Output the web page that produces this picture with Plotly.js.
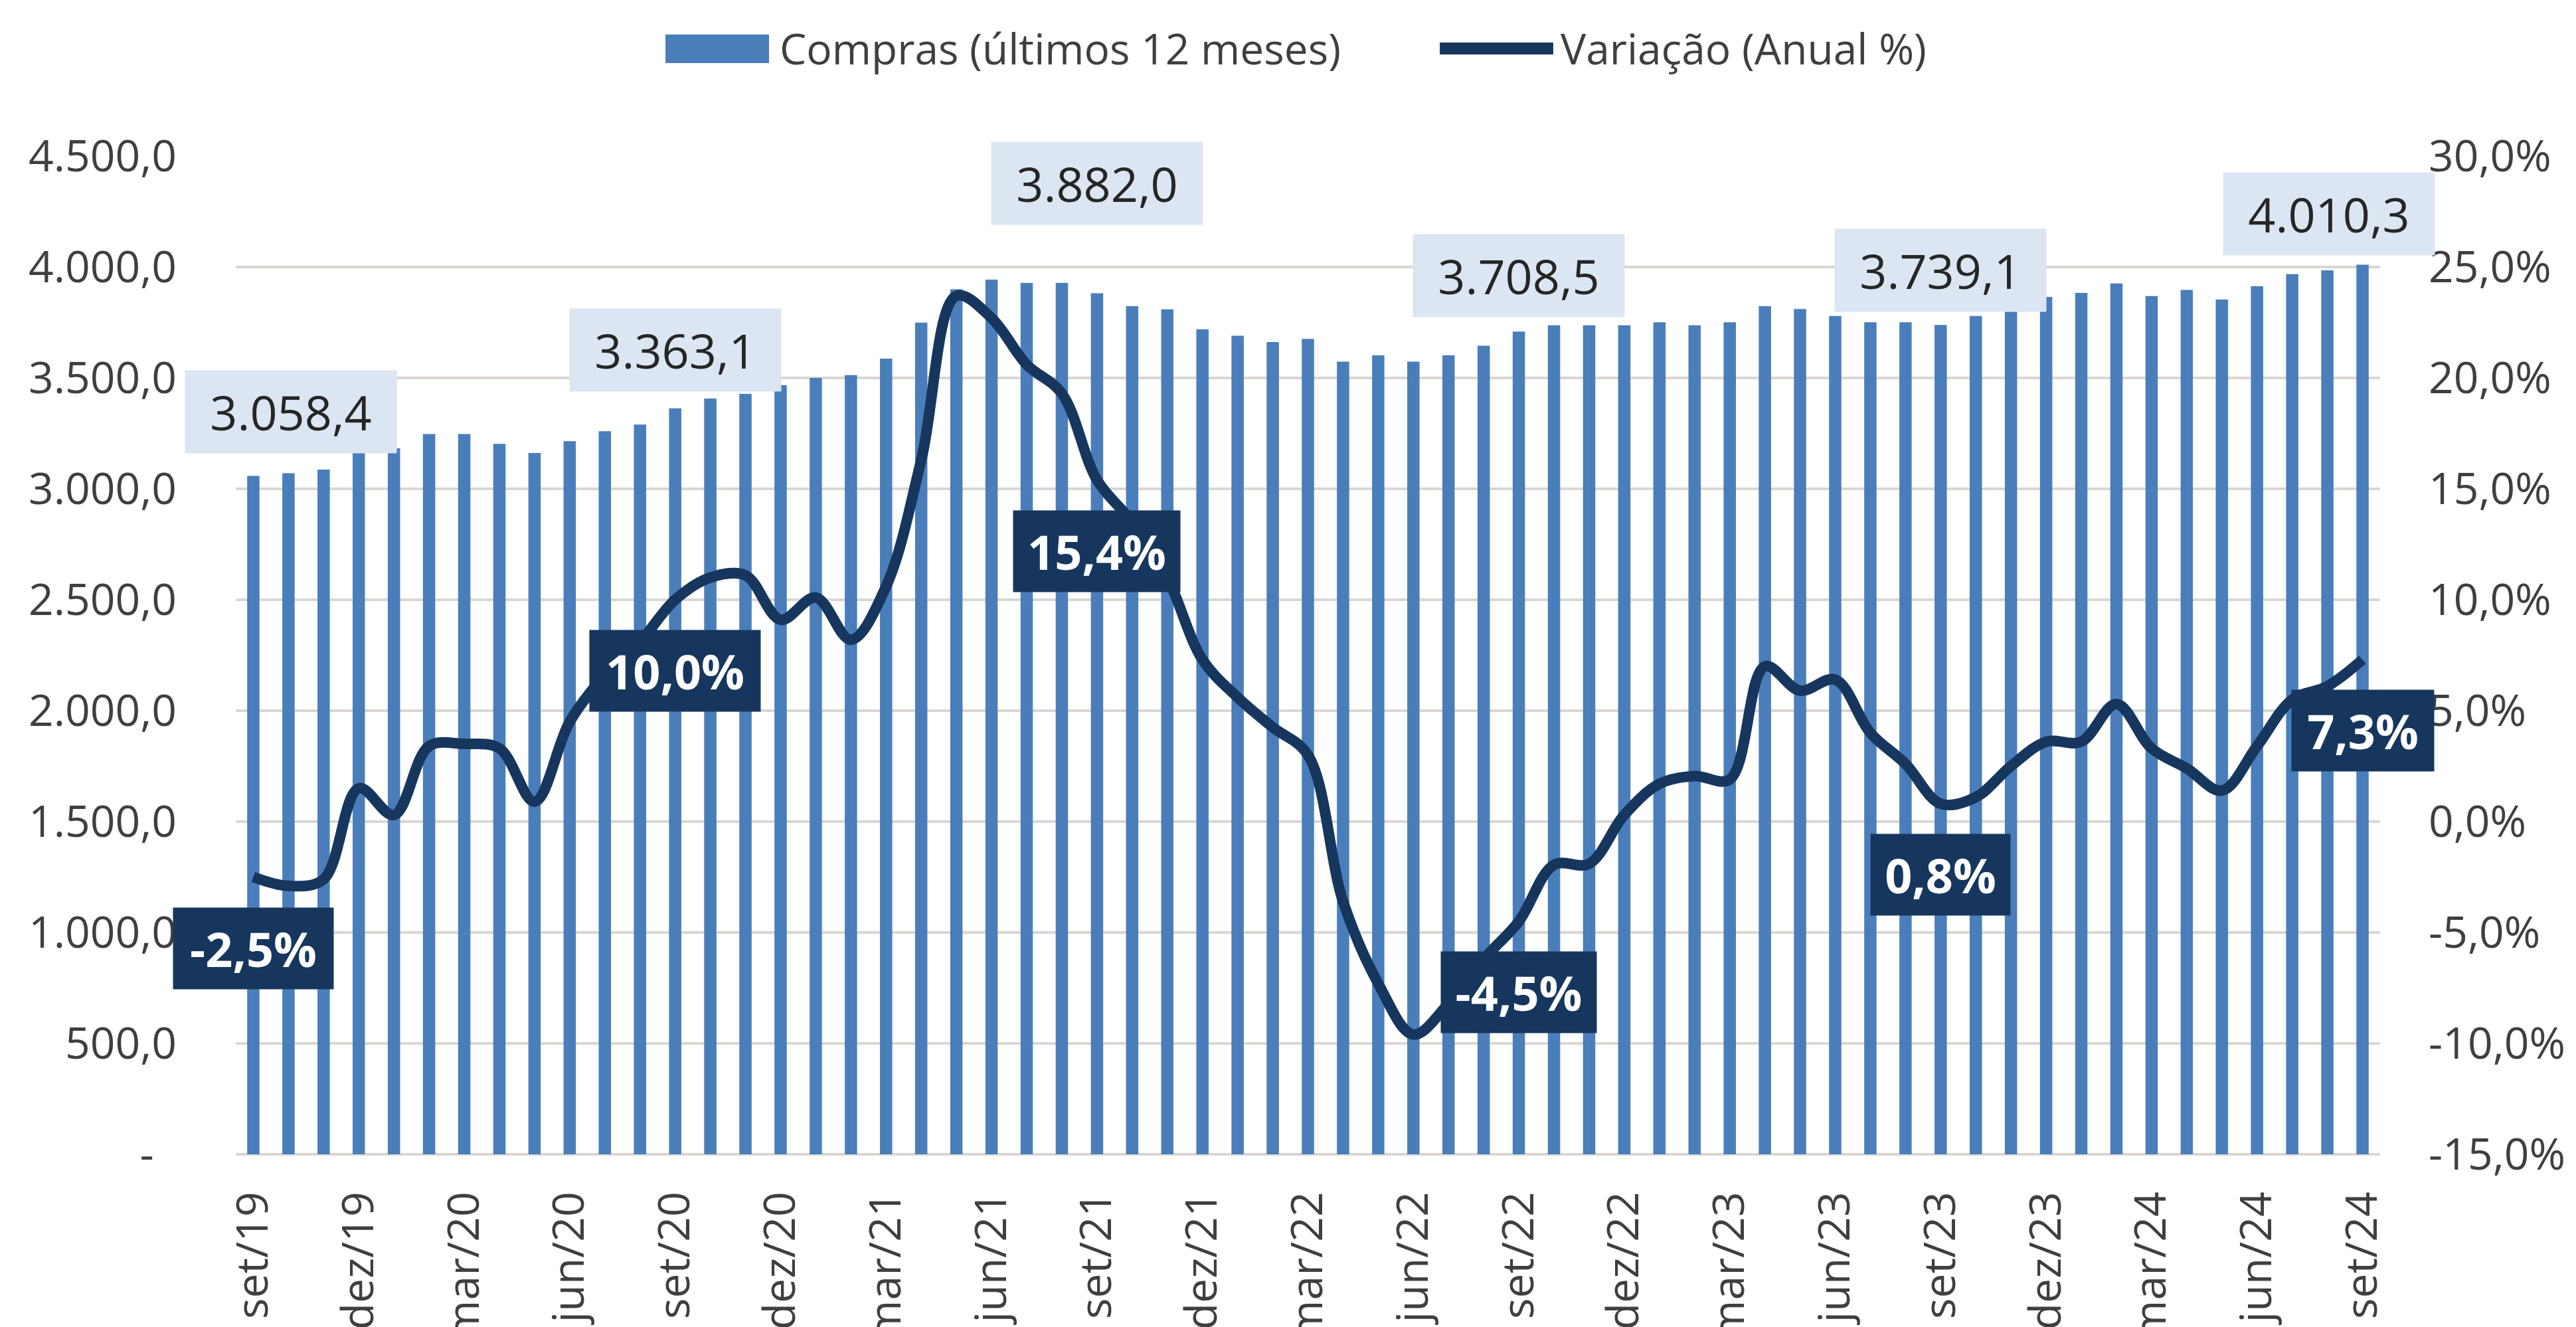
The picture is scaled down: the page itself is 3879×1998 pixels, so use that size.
<!DOCTYPE html>
<html>
<head>
<meta charset="utf-8">
<script src="https://cdn.plot.ly/plotly-3.0.1.min.js"></script>
<style>
  html, body { margin: 0; padding: 0; background: #ffffff; overflow: hidden; }
  #chart { width: 3879px; height: 1998px; }
</style>
</head>
<body>
<div id="chart"></div>
<script>
// ---------- DATA ----------
const meses = [
  "set/19","out/19","nov/19","dez/19","jan/20","fev/20","mar/20","abr/20","mai/20","jun/20","jul/20","ago/20",
  "set/20","out/20","nov/20","dez/20","jan/21","fev/21","mar/21","abr/21","mai/21","jun/21","jul/21","ago/21",
  "set/21","out/21","nov/21","dez/21","jan/22","fev/22","mar/22","abr/22","mai/22","jun/22","jul/22","ago/22",
  "set/22","out/22","nov/22","dez/22","jan/23","fev/23","mar/23","abr/23","mai/23","jun/23","jul/23","ago/23",
  "set/23","out/23","nov/23","dez/23","jan/24","fev/24","mar/24","abr/24","mai/24","jun/24","jul/24","ago/24",
  "set/24"
];

// Compras (últimos 12 meses)
const compras = [
  3058.4, 3070, 3087, 3162, 3183, 3247, 3247, 3203, 3162, 3215, 3260, 3290,
  3363.1, 3407, 3428, 3467, 3500, 3513, 3587, 3749, 3900, 3943, 3928, 3928,
  3882.0, 3823, 3809, 3719, 3690, 3662, 3676, 3573, 3602, 3573, 3602, 3645,
  3708.5, 3737, 3737, 3737, 3751, 3737, 3751, 3823, 3811, 3779, 3751, 3751,
  3739.1, 3779, 3811, 3865, 3883, 3926, 3869, 3897, 3853, 3913, 3968, 3985,
  4010.3
];

// Variação (Anual %)
const variacao = [
  -2.5, -2.9, -2.6, 1.5, 0.3, 3.4, 3.5, 3.3, 0.9, 4.5, 6.6, 8.1,
  10.0, 11.0, 11.1, 9.1, 10.1, 8.2, 10.6, 16.3, 23.7, 22.7, 20.6, 19.3,
  15.4, 13.5, 11.0, 7.3, 5.6, 4.25, 3.0, -3.6, -7.3, -9.6, -8.2, -6.2,
  -4.5, -1.95, -1.9, 0.3, 1.7, 2.05, 1.9, 7.0, 5.9, 6.4, 4.0, 2.6,
  0.8, 1.1, 2.5, 3.6, 3.6, 5.3, 3.3, 2.4, 1.4, 3.4, 5.5, 6.1, 7.3
];

const rotulosX = ["set/19","dez/19","mar/20","jun/20","set/20","dez/20","mar/21","jun/21","set/21","dez/21",
  "mar/22","jun/22","set/22","dez/22","mar/23","jun/23","set/23","dez/23","mar/24","jun/24","set/24"];

const ticksEsq = [0, 500, 1000, 1500, 2000, 2500, 3000, 3500, 4000, 4500];
const ticksDir = [-15, -10, -5, 0, 5, 10, 15, 20, 25, 30];

// months that carry data labels
const mesesRotulo = ["set/19", "set/20", "set/21", "set/22", "set/23", "set/24"];

// ---------- STYLE / OFFSETS ----------
const corBarra = "#4a7ebb";
const corLinha = "#17365d";
const corCaixaClara = "#dce6f2";
const corTexto = "#3f3f3f";
const fonte = "Open Sans";

const deslocBarX = [57, 0, 0, 0, 0, -51];
const deslocBarY = [96, 88, 165, 84, 82, 77];
const larguraCaixaVar = [241, 257, 251, 234, 210, 214];
const deslocVarY = -107;

// ---------- helpers ----------
function fmtBR(v, dec) {
  const neg = v < 0;
  const s = Math.abs(v).toFixed(dec).split(".");
  const inteiro = s[0].replace(/\B(?=(\d{3})+(?!\d))/g, ".");
  return (neg ? "-" : "") + inteiro + (dec > 0 ? "," + s[1] : "");
}

const textoEsq = ticksEsq.map(v => v === 0 ? "-\u00a0\u00a0" : fmtBR(v, 1));
const textoDir = ticksDir.map(v => fmtBR(v, 1) + "%");

// ---------- traces ----------
const traceBar = {
  type: "bar",
  name: "Compras (últimos 12 meses)",
  x: meses,
  y: compras,
  marker: { color: corBarra },
  yaxis: "y",
  hoverinfo: "skip"
};

const traceLinha = {
  type: "scatter",
  mode: "lines",
  name: "Variação (Anual %)",
  x: meses,
  y: variacao,
  yaxis: "y2",
  line: { color: corLinha, width: 16, shape: "spline", smoothing: 1 },
  hoverinfo: "skip"
};

// ---------- annotations ----------
const anotacoes = [];
mesesRotulo.forEach((m, k) => {
  const i = meses.indexOf(m);
  anotacoes.push({
    x: m, y: compras[i], xref: "x", yref: "y",
    text: fmtBR(compras[i], 1),
    showarrow: false,
    xanchor: "center", yanchor: "middle",
    xshift: deslocBarX[k], yshift: deslocBarY[k],
    bgcolor: corCaixaClara, borderpad: 0,
    width: 318, height: 124,
    font: { family: fonte, size: 72, color: "#262626" }
  });
  anotacoes.push({
    x: m, y: variacao[i], xref: "x", yref: "y2",
    text: "<b>" + fmtBR(variacao[i], 1) + "%</b>",
    showarrow: false,
    xanchor: "center", yanchor: "middle",
    yshift: deslocVarY,
    bgcolor: corLinha, borderpad: 0,
    width: larguraCaixaVar[k], height: 122,
    font: { family: fonte, size: 72, color: "#ffffff" }
  });
});

// custom legend (text)
anotacoes.push({
  xref: "paper", yref: "paper", x: 0.2530, y: 1.1078,
  xanchor: "left", yanchor: "middle", showarrow: false,
  text: traceBar.name, font: { family: fonte, size: 64, color: corTexto }
});
anotacoes.push({
  xref: "paper", yref: "paper", x: 0.6172, y: 1.1078,
  xanchor: "left", yanchor: "middle", showarrow: false,
  text: traceLinha.name, font: { family: fonte, size: 64, color: corTexto }
});

const formas = [
  { type: "rect", xref: "paper", yref: "paper", x0: 0.2004, x1: 0.2487, y0: 1.0931, y1: 1.1218,
    fillcolor: corBarra, line: { width: 0 } },
  { type: "line", xref: "paper", yref: "paper", x0: 0.5615, x1: 0.6144, y0: 1.1078, y1: 1.1078,
    line: { color: corLinha, width: 18 } }
];

const layout = {
  width: 3879,
  height: 1998,
  margin: { l: 355, r: 295, t: 235, b: 260, pad: 0 },
  paper_bgcolor: "#ffffff",
  plot_bgcolor: "#ffffff",
  showlegend: false,
  bargap: 0.65,
  separators: ",.",
  font: { family: fonte, color: corTexto, size: 66 },
  xaxis: {
    type: "category",
    range: [-0.5, meses.length - 0.5],
    tickmode: "array",
    tickvals: rotulosX,
    ticktext: rotulosX,
    tickangle: -90,
    ticks: "",
    ticklabelstandoff: 42,
    showgrid: false,
    showline: false,
    zeroline: false,
    tickfont: { family: fonte, size: 66, color: corTexto },
    automargin: false
  },
  yaxis: {
    range: [0, 4500],
    tickmode: "array",
    tickvals: ticksEsq,
    ticktext: textoEsq,
    ticks: "",
    ticklabelstandoff: 88,
    showgrid: true,
    gridcolor: "#dad6d2",
    gridwidth: 4,
    zeroline: true,
    zerolinecolor: "#dad6d2",
    zerolinewidth: 4,
    showline: false,
    tickfont: { family: fonte, size: 66, color: corTexto },
    automargin: false
  },
  yaxis2: {
    range: [-15, 30],
    overlaying: "y",
    side: "right",
    tickmode: "array",
    tickvals: ticksDir,
    ticktext: textoDir,
    ticks: "",
    ticklabelstandoff: 72,
    showgrid: false,
    zeroline: false,
    showline: false,
    tickfont: { family: fonte, size: 66, color: corTexto },
    automargin: false
  },
  annotations: anotacoes,
  shapes: formas
};

Plotly.newPlot("chart", [traceBar, traceLinha], layout, { displayModeBar: false, staticPlot: true });
</script>
</body>
</html>
